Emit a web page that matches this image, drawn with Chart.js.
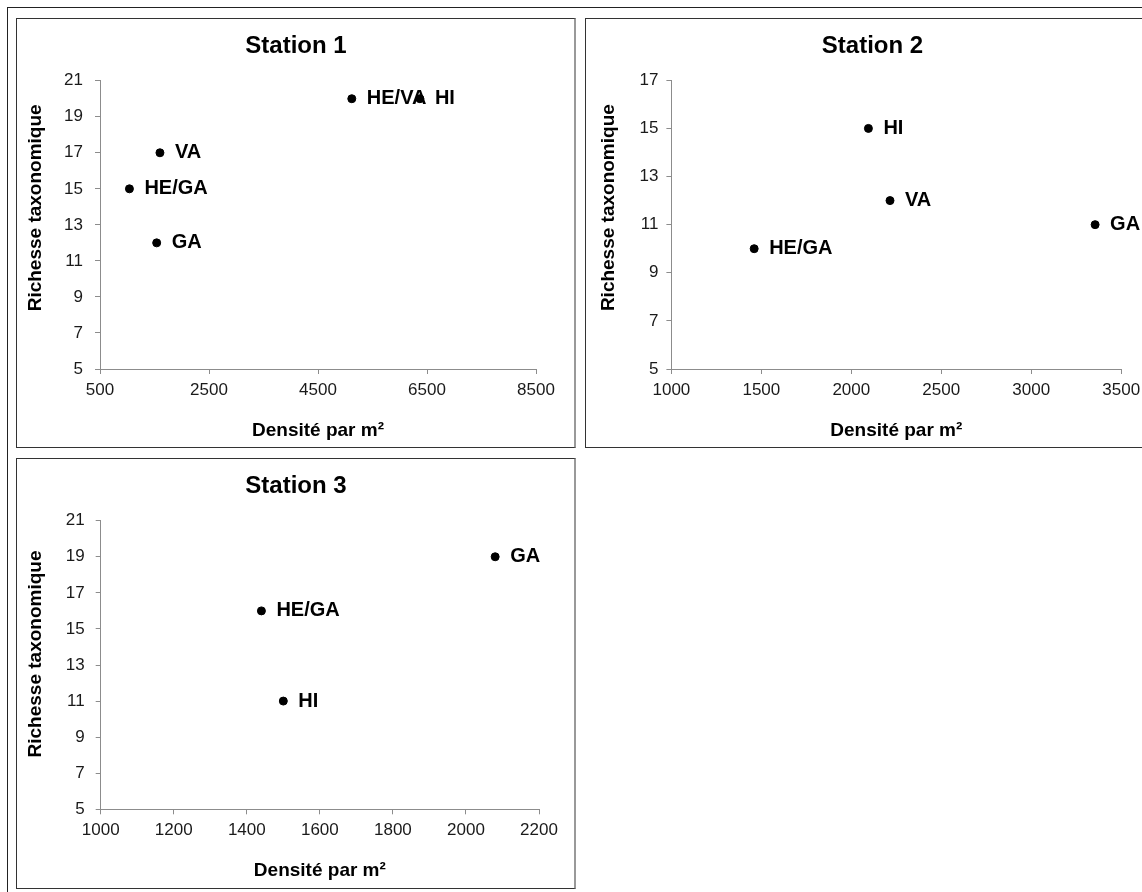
<!DOCTYPE html>
<html><head><meta charset="utf-8">
<script src="https://cdn.jsdelivr.net/npm/chart.js@4.4.1/dist/chart.umd.min.js"></script>
<style>
html,body{margin:0;padding:0;background:#fff;overflow:hidden;width:1142px;height:892px;}
#frame{position:absolute;left:7px;top:7px;width:1300px;height:1000px;border-left:1.5px solid #222;border-top:1.5px solid #222;}
.box{position:absolute;}
.box canvas{position:absolute;left:0;top:0;}
.bd{position:absolute;left:0;top:0;right:0;bottom:0;border:1px solid #333;border-right:2px solid #999;pointer-events:none;box-sizing:border-box;}
</style></head>
<body>
<div id="frame"></div>
<div class="box" style="left:16px;top:18px;width:560px;height:430px"><canvas id="c1" width="560" height="430"></canvas><div class="bd"></div></div>
<div class="box" style="left:585px;top:18px;width:575px;height:430px"><canvas id="c2" width="575" height="430"></canvas><div class="bd"></div></div>
<div class="box" style="left:16px;top:458px;width:560px;height:431px"><canvas id="c3" width="560" height="431"></canvas><div class="bd"></div></div>
<script>
// ---- data ----
const s1Labels = ['HE/VA', 'HI', 'VA', 'HE/GA', 'GA'];
const s1X = [5120, 6370, 1600, 1040, 1540];
const s1Y = [20, 20, 17, 15, 12];
const s1XTicks = [500, 2500, 4500, 6500, 8500];
const s1YTicks = [5, 7, 9, 11, 13, 15, 17, 19, 21];

const s2Labels = ['HI', 'VA', 'GA', 'HE/GA'];
const s2X = [2095, 2215, 3355, 1460];
const s2Y = [15, 12, 11, 10];
const s2XTicks = [1000, 1500, 2000, 2500, 3000, 3500];
const s2YTicks = [5, 7, 9, 11, 13, 15, 17];

const s3Labels = ['GA', 'HE/GA', 'HI'];
const s3X = [2080, 1440, 1500];
const s3Y = [19, 16, 11];
const s3XTicks = [1000, 1200, 1400, 1600, 1800, 2000, 2200];
const s3YTicks = [5, 7, 9, 11, 13, 15, 17, 19, 21];

const titles = ['Station 1', 'Station 2', 'Station 3'];
const xTitle = 'Densité par m²';
const yTitle = 'Richesse taxonomique';

const FONT = '"Liberation Sans", Arial, sans-serif';

const pointLabels = {
  id: 'pointLabels',
  afterDatasetsDraw(chart, args, opts) {
    const ctx = chart.ctx;
    const meta = chart.getDatasetMeta(0);
    ctx.save();
    ctx.font = 'bold 20px ' + FONT;
    ctx.fillStyle = '#000';
    ctx.textBaseline = 'middle';
    ctx.textAlign = 'left';
    meta.data.forEach((pt, i) => ctx.fillText(opts.names[i], pt.x + 15, pt.y));
    ctx.restore();
  }
};

const texts = {
  id: 'texts',
  afterDraw(chart, args, opts) {
    const ctx = chart.ctx;
    const area = chart.chartArea;
    ctx.save();
    ctx.fillStyle = '#000';
    ctx.textBaseline = 'middle';
    ctx.textAlign = 'center';
    // chart title
    ctx.font = 'bold 24px ' + FONT;
    ctx.fillText(opts.title, chart.width / 2, opts.titleY);
    // y axis title
    ctx.font = 'bold 19px ' + FONT;
    ctx.translate(opts.ytx, (area.top + area.bottom) / 2 + opts.ydy);
    ctx.rotate(-Math.PI / 2);
    ctx.fillText(opts.yTitle, 0, 0);
    ctx.restore();
  }
};

function makeChart(id, title, names, xs, ys, xTicks, yTicks, L) {
  const canvas = document.getElementById(id);
  const W = canvas.width, H = canvas.height;
  const pts = xs.map((x, i) => ({x: x, y: ys[i]}));
  return new Chart(canvas, {
    type: 'scatter',
    data: {datasets: [{data: pts, backgroundColor: '#000', borderColor: '#000', pointRadius: 4, pointHoverRadius: 4}]},
    options: {
      responsive: false, animation: false, devicePixelRatio: 1,
      layout: {padding: {left: 0, right: W - L.right, top: L.top, bottom: 0}},
      plugins: {
        legend: {display: false}, tooltip: {enabled: false}, title: {display: false},
        pointLabels: {names: names},
        texts: {title: title, titleY: 28, yTitle: yTitle, ytx: L.ytx, ydy: L.ydy}
      },
      scales: {
        x: {
          type: 'linear', min: xTicks[0], max: xTicks[xTicks.length - 1],
          afterBuildTicks: s => { s.ticks = xTicks.map(v => ({value: v})); },
          afterFit: s => { s.height = H - L.bottom; },
          grid: {display: true, drawOnChartArea: false, drawTicks: true, tickLength: 5, color: '#8c8c8c'},
          border: {display: true, color: '#8c8c8c', width: 1},
          ticks: {color: '#1a1a1a', padding: 6, font: {family: FONT, size: 17}, maxRotation: 0, autoSkip: false,
            callback: v => String(v)},
          title: {display: true, text: xTitle, color: '#000', font: {family: FONT, size: 19, weight: 'bold', lineHeight: 1.2},
            padding: {top: 0, bottom: L.xtb}}
        },
        y: {
          type: 'linear', min: yTicks[0], max: yTicks[yTicks.length - 1],
          afterBuildTicks: s => { s.ticks = yTicks.map(v => ({value: v})); },
          afterFit: s => { s.width = L.left; },
          grid: {display: true, drawOnChartArea: false, drawTicks: true, tickLength: 5, color: '#8c8c8c'},
          border: {display: true, color: '#8c8c8c', width: 1},
          ticks: {color: '#1a1a1a', padding: L.ytp, font: {family: FONT, size: 17}, autoSkip: false,
            callback: v => String(v)},
          title: {display: false}
        }
      }
    },
    plugins: [pointLabels, texts]
  });
}

makeChart('c1', titles[0], s1Labels, s1X, s1Y, s1XTicks, s1YTicks,
  {left: 84, right: 520, top: 62.7, bottom: 351, xtb: 6, ytp: 12, ytx: 19.5, ydy: -17});
makeChart('c2', titles[1], s2Labels, s2X, s2Y, s2XTicks, s2YTicks,
  {left: 86.4, right: 536.2, top: 62.3, bottom: 351, xtb: 6, ytp: 8, ytx: 23.5, ydy: -17});
makeChart('c3', titles[2], s3Labels, s3X, s3Y, s3XTicks, s3YTicks,
  {left: 84.7, right: 523, top: 62.7, bottom: 351.3, xtb: 7, ytp: 11, ytx: 19.5, ydy: -11});
</script>
</body></html>
